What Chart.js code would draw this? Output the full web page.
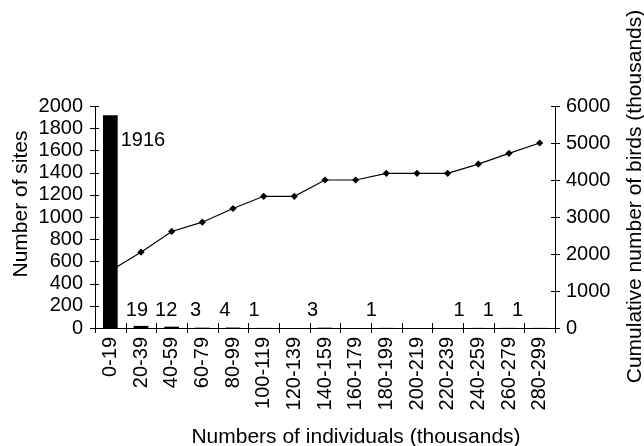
<!DOCTYPE html>
<html>
<head>
<meta charset="utf-8">
<script src="https://cdn.jsdelivr.net/npm/chart.js@4"></script>
<style>
  html, body { margin: 0; padding: 0; background: #fff; }
  #wrap { width: 644px; height: 446px; position: relative; }
</style>
</head>
<body>
<div id="wrap"><canvas id="chart"></canvas></div>
<script>
// Size classes of colony (thousands of individuals)
const classes = ['0-19', '20-39', '40-59', '60-79', '80-99', '100-119', '120-139',
  '140-159', '160-179', '180-199', '200-219', '220-239', '240-259', '260-279', '280-299'];

// Number of sites falling in each size class
const siteCounts = [1916, 19, 12, 3, 4, 1, 0, 3, 0, 1, 0, 0, 1, 1, 1];

// Cumulative number of birds (thousands) up to and including each class
const cumulativeBirds = [1550, 2050, 2610, 2860, 3230, 3560, 3560, 4000, 4000, 4180, 4180, 4180, 4430, 4720, 5000];

// Axis tick values
const siteTicks = [0, 200, 400, 600, 800, 1000, 1200, 1400, 1600, 1800, 2000];
const birdTicks = [0, 1000, 2000, 3000, 4000, 5000, 6000];

const titleX = 'Numbers of individuals (thousands)';
const titleLeft = 'Number of sites';
const titleRight = 'Cumulative number of birds (thousands)';

const FONT = '"Liberation Sans", Arial, Helvetica, sans-serif';
Chart.defaults.font.family = FONT;
Chart.defaults.color = '#000';

// Fixed frame: plot area spans x 95..555, y 106..328
const frame = { left: 95, right: 555, top: 106, bottom: 328, width: 644, height: 446 };

// Crossing tick marks on all three axes
const tickMarks = {
  id: 'tickMarks',
  afterDraw(chart) {
    const { ctx, scales } = chart;
    const x = scales.x, yl = scales.ySites, yr = scales.yBirds;
    ctx.save();
    ctx.strokeStyle = '#000';
    ctx.lineWidth = 1;
    ctx.beginPath();
    yl.ticks.forEach(t => {
      const py = Math.round(yl.getPixelForValue(t.value)) + 0.5;
      ctx.moveTo(yl.right - 5, py); ctx.lineTo(yl.right + 4, py);
    });
    yr.ticks.forEach(t => {
      const py = Math.round(yr.getPixelForValue(t.value)) + 0.5;
      ctx.moveTo(yr.left - 4, py); ctx.lineTo(yr.left + 5, py);
    });
    const n = classes.length;
    const step = x.width / n;
    for (let i = 0; i <= n; i++) {
      const px = Math.round(x.left + i * step) + 0.5;
      ctx.moveTo(px, x.top - 5); ctx.lineTo(px, x.top + 5);
    }
    ctx.stroke();
    ctx.restore();
  }
};

// Site-count labels and axis titles
const annotations = {
  id: 'annotations',
  afterDraw(chart) {
    const { ctx, scales, chartArea } = chart;
    const x = scales.x, yl = scales.ySites;
    ctx.save();
    ctx.fillStyle = '#000';
    ctx.font = '20px ' + FONT;
    ctx.textBaseline = 'alphabetic';

    // the large first class is labelled beside its bar
    const bar0 = chart.getDatasetMeta(0).data[0];
    ctx.textAlign = 'left';
    ctx.fillText(String(siteCounts[0]), bar0.x + bar0.width / 2 + 3, yl.getPixelForValue(siteCounts[0]) + 31);

    // the other non-zero counts sit in a row just above the axis
    ctx.textAlign = 'center';
    const rowY = yl.getPixelForValue(0) - 12;
    siteCounts.forEach((v, i) => {
      if (i === 0 || v === 0) return;
      const cx = x.getPixelForValue(i);
      const lx = chartArea.left + (cx - chartArea.left) * 0.955 - 2;
      ctx.fillText(String(v), lx, rowY);
    });

    ctx.font = '21px ' + FONT;
    // x title
    ctx.textAlign = 'center';
    ctx.fillText(titleX, (chartArea.left + chartArea.right) / 2 + 31, 443);

    // left title, reading upward
    ctx.save();
    ctx.translate(chartArea.left - 68.5, (chartArea.top + chartArea.bottom) / 2 - 13);
    ctx.rotate(-Math.PI / 2);
    ctx.fillText(titleLeft, 0, 0);
    ctx.restore();

    // right title, also reading upward
    ctx.save();
    ctx.translate(chartArea.right + 86, (chartArea.top + chartArea.bottom) / 2 - 20.5);
    ctx.rotate(-Math.PI / 2);
    ctx.fillText(titleRight, 0, 0);
    ctx.restore();

    ctx.restore();
  }
};

const plainNumber = v => String(v);

new Chart(document.getElementById('chart'), {
  data: {
    labels: classes,
    datasets: [
      {
        type: 'bar',
        label: 'Number of sites',
        data: siteCounts,
        yAxisID: 'ySites',
        backgroundColor: '#000',
        borderWidth: 0,
        barPercentage: 1,
        categoryPercentage: 0.48,
        order: 0
      },
      {
        type: 'line',
        label: 'Cumulative number of birds',
        data: cumulativeBirds,
        yAxisID: 'yBirds',
        borderColor: '#000',
        backgroundColor: '#000',
        borderWidth: 1.2,
        pointStyle: 'rectRot',
        pointRadius: 3.6,
        pointBorderWidth: 0,
        tension: 0,
        order: 1
      }
    ]
  },
  options: {
    responsive: true,
    maintainAspectRatio: false,
    animation: false,
    devicePixelRatio: 1,
    layout: { padding: { top: frame.top, left: 0, right: 0, bottom: 0 } },
    plugins: {
      legend: { display: false },
      tooltip: { enabled: false }
    },
    scales: {
      x: {
        type: 'category',
        offset: true,
        grid: { display: false, drawTicks: false },
        border: { display: true, color: '#000', width: 1 },
        ticks: {
          font: { size: 20 },
          color: '#000',
          minRotation: 90,
          maxRotation: 90,
          padding: 9,
          autoSkip: false
        },
        afterFit(s) { s.height = frame.height - frame.bottom; }
      },
      ySites: {
        type: 'linear',
        position: 'left',
        min: 0,
        max: 2000,
        grid: { display: false, drawTicks: false },
        border: { display: true, color: '#000', width: 1 },
        afterBuildTicks(s) { s.ticks = siteTicks.map(v => ({ value: v })); },
        ticks: { font: { size: 20 }, color: '#000', padding: 12, autoSkip: false, callback: plainNumber },
        afterFit(s) { s.width = frame.left; }
      },
      yBirds: {
        type: 'linear',
        position: 'right',
        min: 0,
        max: 6000,
        grid: { display: false, drawTicks: false },
        border: { display: true, color: '#000', width: 1 },
        afterBuildTicks(s) { s.ticks = birdTicks.map(v => ({ value: v })); },
        ticks: { font: { size: 20 }, color: '#000', padding: 11, autoSkip: false, callback: plainNumber },
        afterFit(s) { s.width = frame.width - frame.right; }
      }
    }
  },
  plugins: [tickMarks, annotations]
});
</script>
</body>
</html>
